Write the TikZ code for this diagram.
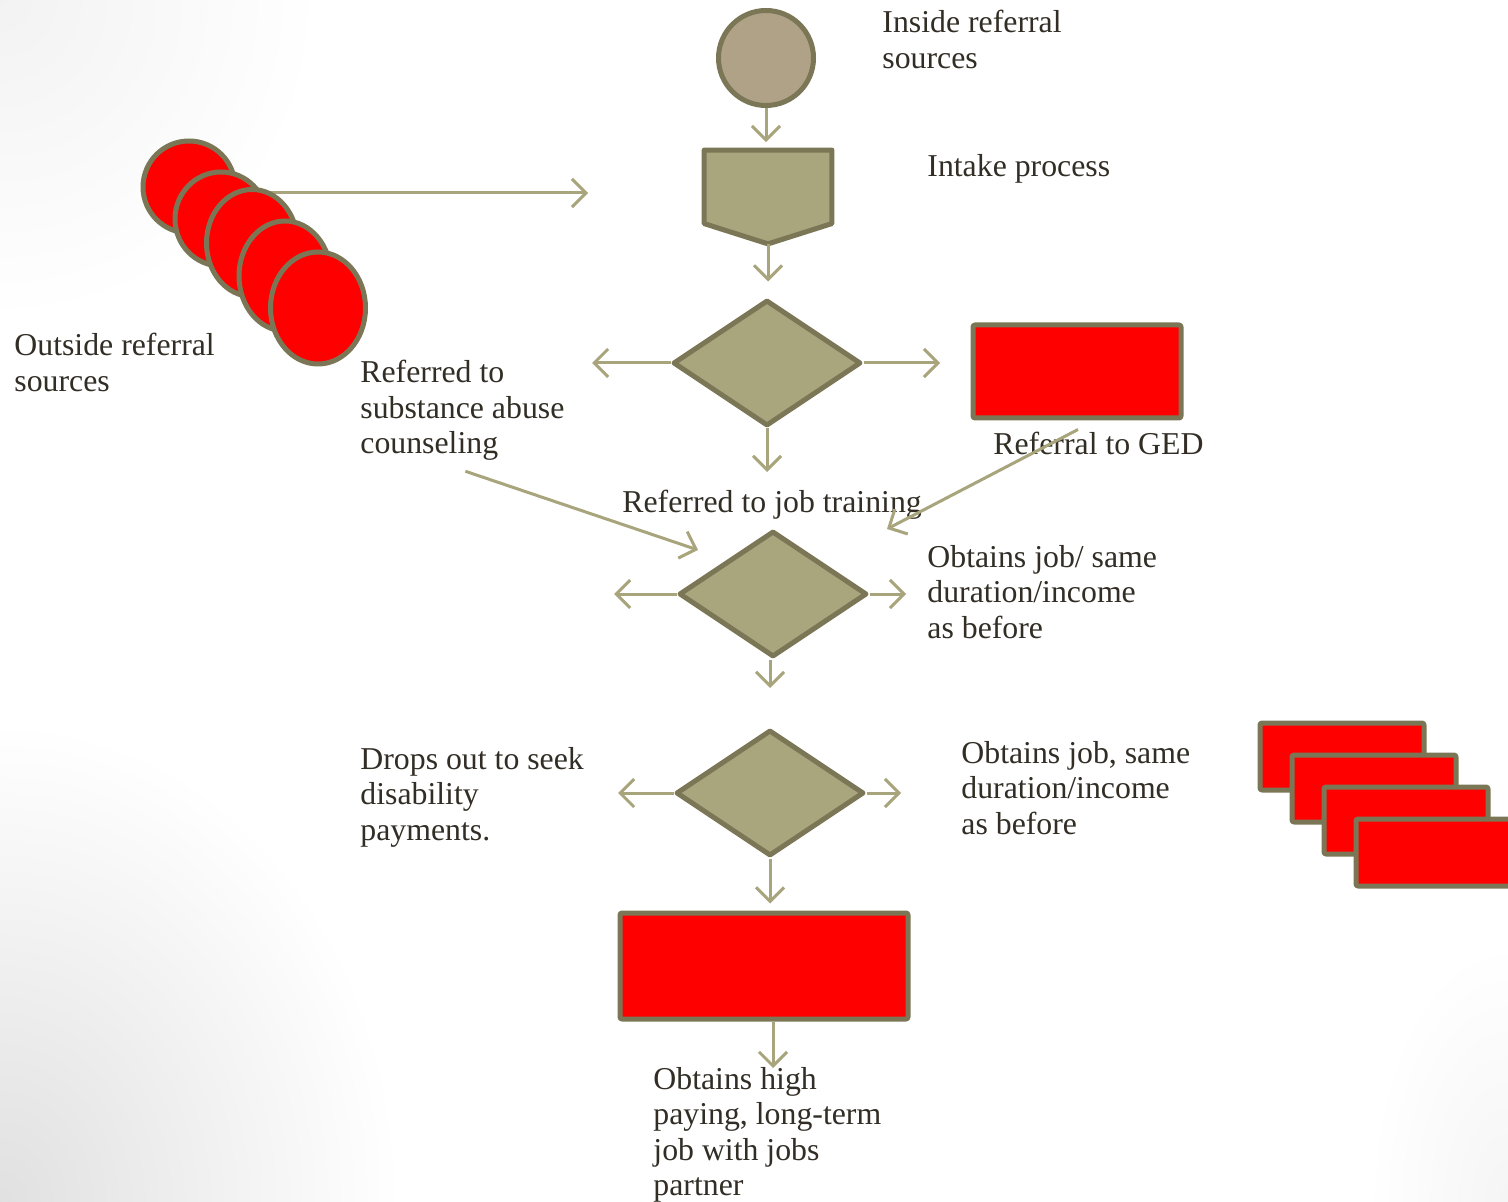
\documentclass[tikz,border=0pt]{standalone}
\usepackage{fontspec}
\setmainfont{Liberation Serif}
\usetikzlibrary{shapes.geometric,arrows.meta,calc}
\definecolor{tanfill}{RGB}{176,162,134}
\definecolor{olivefill}{RGB}{169,165,125}
\definecolor{olivedraw}{RGB}{123,119,86}
\definecolor{arrowcol}{RGB}{168,164,124}
\definecolor{txt}{RGB}{50,46,38}
\definecolor{redfill}{RGB}{255,0,0}
\tikzset{
  shapeline/.style={draw=olivedraw, line width=2.5pt, line join=round},
  redbox/.style={shapeline, fill=redfill, rectangle, rounded corners=1pt, inner sep=0pt},
  redell/.style={shapeline, fill=redfill, ellipse, inner sep=0pt},
  decision/.style={shapeline, fill=olivefill, diamond, inner sep=0pt, aspect=1.5, minimum width=94pt, minimum height=63pt},
  arr/.style={draw=arrowcol, line width=1.5pt, -{Straight Barb[length=7pt, width=14pt, line width=1.5pt]}},
  lbl/.style={text=txt, anchor=base west, align=left, inner sep=0pt, font=\fontsize{15.9}{17.75}\selectfont}
}
\begin{document}
\begin{tikzpicture}[x=0.5pt, y=-0.5pt]
\useasboundingbox (0,0) rectangle (1508,1202);
\clip (0,0) rectangle (1508,1202);
\fill[white] (0,0) rectangle (1508,1202);
% background gradients
\shade[inner color=black!12, outer color=white] (0,1202) ellipse [x radius=400, y radius=480];
\shade[inner color=black!5, outer color=white] (0,0) ellipse [x radius=320, y radius=320];
\shade[inner color=black!4, outer color=white] (1508,1202) ellipse [x radius=140, y radius=260];

% outside referral sources (stacked circles)
\coordinate (oend) at (588,193);
\node[redell, minimum width=46pt, minimum height=46pt] (o1) at (189,187) {};
\draw[arr] (o1.center |- oend) -- (oend);
\node[redell, minimum width=46pt, minimum height=47pt] (o2) at (221,219) {};
\node[redell, minimum width=45.5pt, minimum height=53.5pt] (o3) at (252,243) {};
\node[redell, minimum width=46pt, minimum height=55pt] (o4) at (285,276) {};
\node[redell, minimum width=47.5pt, minimum height=56pt] (o5) at (318,308) {};

% top circle
\node[shapeline, fill=tanfill, circle, inner sep=0pt, minimum size=47.5pt] (inside) at (766,58) {};

% intake pentagon
\node[rectangle, inner sep=0pt, minimum width=63.5pt, minimum height=46.5pt] (intake) at (768,197) {};
\draw[shapeline, fill=olivefill] (intake.north west) -- (intake.north east)
  -- ($(intake.north east)+(0,73.5)$) -- (intake.south)
  -- ($(intake.north west)+(0,73.5)$) -- cycle;

% decisions
\node[decision] (d1) at (767,363) {};
\node[decision] (d2) at (773,594) {};
\node[decision] (d3) at (770,793) {};

% red boxes
\node[redbox, minimum width=104pt, minimum height=46.5pt] (ged) at (1077,371.5) {};
\node[redbox, minimum width=144pt, minimum height=53pt] (final) at (764,966) {};
\node[redbox, minimum width=82pt, minimum height=33.5pt] (r1) at (1342,756.5) {};
\node[redbox, minimum width=82pt, minimum height=33.5pt] (r2) at (1374,788.5) {};
\node[redbox, minimum width=82pt, minimum height=33.5pt] (r3) at (1406,820.5) {};
\node[redbox, minimum width=82pt, minimum height=33.5pt] (r4) at (1438,852.5) {};

% labels (anchored at the baseline of the last line)
\node[lbl] (tInside) at (882,68.5) {Inside referral\\sources};
\node[lbl] (tIntake) at (927,177) {Intake process};
\node[lbl] (tOutside) at (14,391.5) {Outside referral\\sources};
\node[lbl] (tSubs) at (360,454) {Referred to\\substance abuse\\counseling};
\node[lbl] (tGed) at (993,455) {Referral to GED};
\node[lbl] (tJob) at (622,513) {Referred to job training};
\node[lbl] (tObt1) at (927,638) {Obtains job/ same\\duration/income\\as before};
\node[lbl] (tDrop) at (360,840) {Drops out to seek\\disability\\payments.};
\node[lbl] (tObt2) at (961,834) {Obtains job, same\\duration/income\\as before};
\node[lbl] (tHigh) at (653,1195.5) {Obtains high\\paying, long-term\\job with jobs\\partner};

% connectors
\draw[arr, shorten >=4pt] (inside.south) -- (inside.south |- intake.north);
\draw[arr, shorten >=8pt] (intake.south) -- (intake.south |- d1.north);

\coordinate (d1l) at (592,363);
\coordinate (d1r) at (940,363);
\coordinate (d1d) at (767,472);
\draw[arr] (d1.west) -- (d1l);
\draw[arr] (d1.east) -- (d1r);
\draw[arr] (d1.south) -- (d1d);

\coordinate (gedend) at (887,529);
\draw[arr] ($(ged.south)+(1,9)$) -- (gedend);
\coordinate (subsend) at (698,550);
\draw[arr] ($(tSubs.south)+(3,10)$) -- (subsend);

\coordinate (d2l) at (614,594);
\coordinate (d2r) at (906,594);
\coordinate (d2d) at (770,688);
\draw[arr] (d2.west) -- (d2l);
\draw[arr] (d2.east) -- (d2r);
\draw[arr] (d2.south -| d2d) -- (d2d);

\coordinate (d3l) at (618,793);
\coordinate (d3r) at (901,793);
\draw[arr] (d3.west) -- (d3l);
\draw[arr] (d3.east) -- (d3r);
\draw[arr, shorten >=3.5pt] (d3.south) -- (d3.south |- final.north);

\coordinate (fend) at (773,1068);
\draw[arr] (final.south -| fend) -- (fend);
\end{tikzpicture}
\end{document}
